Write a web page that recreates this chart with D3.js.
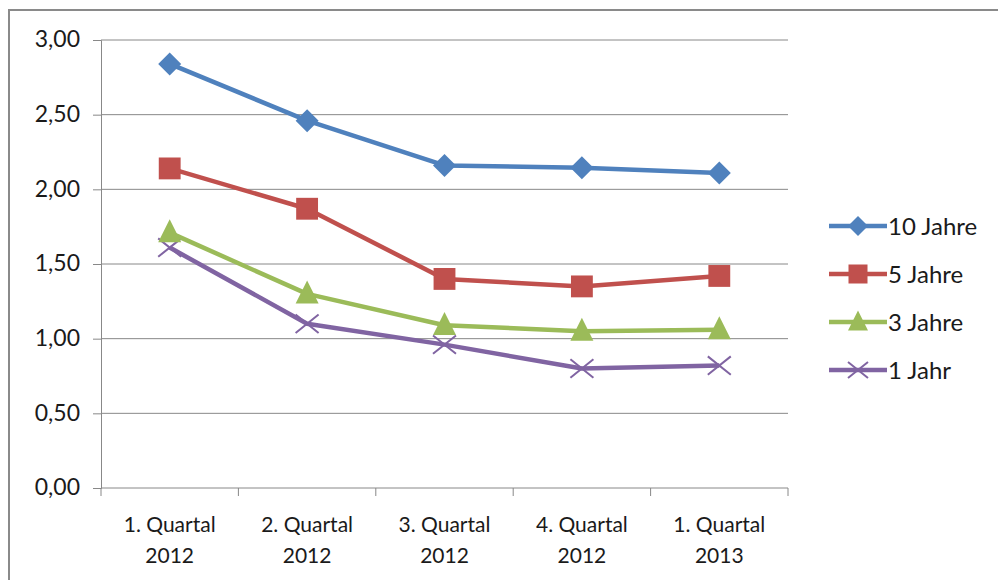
<!DOCTYPE html>
<html>
<head>
<meta charset="utf-8">
<script src="https://cdn.jsdelivr.net/npm/d3@7"></script>
<style>
  html, body { margin: 0; padding: 0; background: #fff; }
  svg { display: block; }
  text { font-family: Lato, "Open Sans", sans-serif; fill: #1a1a1a; }
</style>
</head>
<body>
<svg id="chart" width="998" height="580"></svg>
<script>
// Quarterly interest rates by maturity
const categories = [
  ["1. Quartal", "2012"],
  ["2. Quartal", "2012"],
  ["3. Quartal", "2012"],
  ["4. Quartal", "2012"],
  ["1. Quartal", "2013"]
];
const seriesNames = ["10 Jahre", "5 Jahre", "3 Jahre", "1 Jahr"];
const values10 = [2.84, 2.46, 2.16, 2.145, 2.11];
const values5  = [2.14, 1.87, 1.40, 1.35, 1.42];
const values3  = [1.71, 1.30, 1.09, 1.05, 1.06];
const values1  = [1.61, 1.10, 0.96, 0.80, 0.82];
const yTicks = [0, 0.5, 1, 1.5, 2, 2.5, 3];

const colors = ["#4F81BD", "#C0504D", "#9BBB59", "#8064A2"];
const markers = ["diamond", "square", "triangle", "cross"];
const series = [values10, values5, values3, values1].map((v, i) => ({
  name: seriesNames[i], values: v, color: colors[i], marker: markers[i]
}));

const svg = d3.select("#chart");

// outer frame (top and left edges visible)
svg.append("path")
  .attr("d", "M9,580 V10 H998")
  .attr("fill", "none")
  .attr("stroke", "#8a8a8a")
  .attr("stroke-width", 2);

const plot = { left: 101, right: 788, top: 40, bottom: 488 };

const x = d3.scaleBand()
  .domain(d3.range(categories.length))
  .range([plot.left, plot.right]);
const y = d3.scaleLinear().domain([0, 3]).range([plot.bottom, plot.top]);
const fmt = v => d3.format(".2f")(v).replace(".", ",");

// horizontal gridlines
svg.append("g")
  .selectAll("line")
  .data(yTicks.filter(t => t > 0))
  .join("line")
  .attr("x1", plot.left).attr("x2", plot.right)
  .attr("y1", d => y(d)).attr("y2", d => y(d))
  .attr("stroke", "#888").attr("stroke-width", 1);

// y axis
const yAxis = svg.append("g")
  .attr("transform", `translate(${plot.left},0)`)
  .call(d3.axisLeft(y).tickValues(yTicks).tickFormat(fmt).tickSize(8).tickPadding(13));
yAxis.select(".domain").attr("stroke", "#888");
yAxis.selectAll(".tick line").attr("stroke", "#888");
yAxis.selectAll(".tick text")
  .attr("font-size", 23).attr("fill", "#1a1a1a")
  .attr("dy", "0.3em")
  .style("font-family", "Lato, 'Open Sans', sans-serif");

// x axis with ticks on category boundaries
const xAxisG = svg.append("g").attr("transform", `translate(0,${plot.bottom})`);
xAxisG.append("line")
  .attr("x1", plot.left).attr("x2", plot.right)
  .attr("stroke", "#888");
const bounds = d3.range(categories.length + 1).map(i =>
  i < categories.length ? x(i) : x(categories.length - 1) + x.bandwidth());
xAxisG.selectAll("line.tk")
  .data(bounds)
  .join("line").attr("class", "tk")
  .attr("x1", d => d).attr("x2", d => d)
  .attr("y1", 0).attr("y2", 8)
  .attr("stroke", "#888");
const xl = xAxisG.selectAll("text.cat")
  .data(categories)
  .join("text").attr("class", "cat")
  .attr("text-anchor", "middle")
  .attr("font-size", 21)
  .attr("x", (d, i) => x(i) + x.bandwidth() / 2);
xl.append("tspan").attr("x", (d, i) => x(i) + x.bandwidth() / 2).attr("y", 44).text(d => d[0]);
xl.append("tspan").attr("x", (d, i) => x(i) + x.bandwidth() / 2).attr("y", 75).text(d => d[1]);

// marker drawing
function drawMarker(g, type, color, size) {
  if (type === "diamond") {
    const s = size / 2;
    g.append("path").attr("d", `M0,${-s} L${s},0 L0,${s} L${-s},0 Z`)
      .attr("fill", color);
  } else if (type === "square") {
    const s = size * 0.95;
    g.append("rect").attr("x", -s / 2).attr("y", -s / 2).attr("width", s).attr("height", s)
      .attr("fill", color);
  } else if (type === "triangle") {
    const s = size;
    g.append("path")
      .attr("d", `M0,${-s * 0.58} L${s * 0.5},${s * 0.42} L${-s * 0.5},${s * 0.42} Z`)
      .attr("fill", color);
  } else if (type === "cross") {
    const s = size * 0.5;
    g.append("path")
      .attr("d", `M${-s},${-s * 0.8} L${s},${s * 0.8} M${-s},${s * 0.8} L${s},${-s * 0.8}`)
      .attr("stroke", color).attr("stroke-width", 2).attr("fill", "none");
  }
}

const line = d3.line()
  .x((d, i) => x(i) + x.bandwidth() / 2)
  .y(d => y(d));

// series lines and markers (drawn bottom series first)
series.slice().reverse().forEach(s => {
  svg.append("path")
    .datum(s.values)
    .attr("d", line)
    .attr("fill", "none")
    .attr("stroke", s.color)
    .attr("stroke-width", 4.5)
    .attr("stroke-linejoin", "round");
  s.values.forEach((v, i) => {
    const g = svg.append("g")
      .attr("transform", `translate(${x(i) + x.bandwidth() / 2},${y(v)})`);
    drawMarker(g, s.marker, s.color, 23);
  });
});

// legend
const legend = svg.append("g").attr("transform", "translate(829,226)");
series.forEach((s, i) => {
  const g = legend.append("g").attr("transform", `translate(0,${i * 48})`);
  g.append("line").attr("x1", 0).attr("x2", 58).attr("y1", 0).attr("y2", 0)
    .attr("stroke", s.color).attr("stroke-width", 4.5);
  const m = g.append("g").attr("transform", "translate(29,0)");
  drawMarker(m, s.marker, s.color, 20);
  g.append("text").attr("x", 59).attr("y", 8.5)
    .attr("font-size", 24).text(s.name);
});
</script>
</body>
</html>
